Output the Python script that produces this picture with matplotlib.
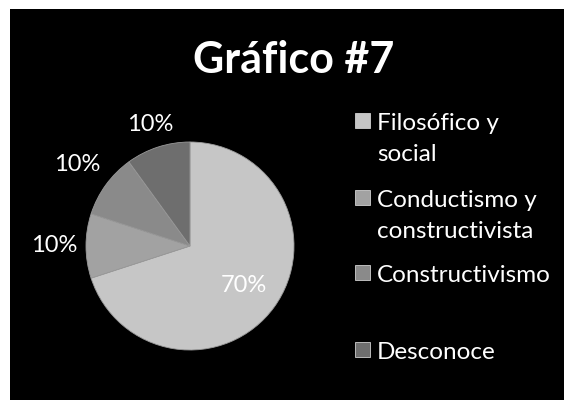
import numpy as np
import matplotlib
matplotlib.use("Agg")
import matplotlib.pyplot as plt
from matplotlib.patches import Rectangle

# données du graphique
categorias = ["Filosófico y\nsocial", "Conductismo y\nconstructivista", "Constructivismo", "Desconoce"]
porcentajes = [70, 10, 10, 10]
titulo = "Gráfico #7"

colores = ["#c6c6c6", "#a2a2a2", "#8a8a8a", "#6e6e6e"]
dist_etiquetas = [0.64, 1.31, 1.34, 1.23]

W, H = 564, 400
fig = plt.figure(figsize=(W / 100, H / 100), dpi=100, facecolor="white")
plt.rcParams['font.family'] = ['Lato', 'DejaVu Sans']


def fx(px):
    return px / W


def fy(py):
    return 1 - py / H


# fond noir (bord blanc en haut et à gauche)
fig.add_artist(Rectangle((fx(10), 0), 1 - fx(10), fy(9), transform=fig.transFigure,
                         facecolor="black", edgecolor="none", zorder=0))

# camembert
cx, cy, r = 190, 246, 104
ax = fig.add_axes([fx(cx - r), fy(cy + r), 2 * r / W, 2 * r / H])
ax.set_facecolor("none")
wedges, _ = ax.pie(porcentajes, colors=colores, startangle=90, counterclock=False,
                   radius=1, wedgeprops=dict(edgecolor="#9a9a9a", linewidth=0.6))
for w, d, p in zip(wedges, dist_etiquetas, porcentajes):
    ang = np.deg2rad((w.theta1 + w.theta2) / 2)
    ax.text(d * np.cos(ang), d * np.sin(ang), f"{p}%", ha="center", va="center",
            color="white", fontsize=17)
ax.set_xlim(-1, 1)
ax.set_ylim(-1, 1)
ax.set_aspect("equal")
ax.axis("off")

# titre
fig.text(fx(294), fy(60), titulo, ha="center", va="center", color="white",
         fontsize=31, fontweight="bold")

# légende
base_lignes = [130, 207, 282, 359]
for lab, col, b in zip(categorias, colores, base_lignes):
    fig.add_artist(Rectangle((fx(355), fy(b - 2)), 15 / W, 15 / H, transform=fig.transFigure,
                             facecolor=col, edgecolor="#d0d0d0", linewidth=0.6))
    for i, ligne in enumerate(lab.split("\n")):
        fig.text(fx(377), fy(b + 31 * i), ligne, ha="left", va="baseline",
                 color="white", fontsize=17.5)

fig.savefig("out.png", dpi=100, facecolor="white")
